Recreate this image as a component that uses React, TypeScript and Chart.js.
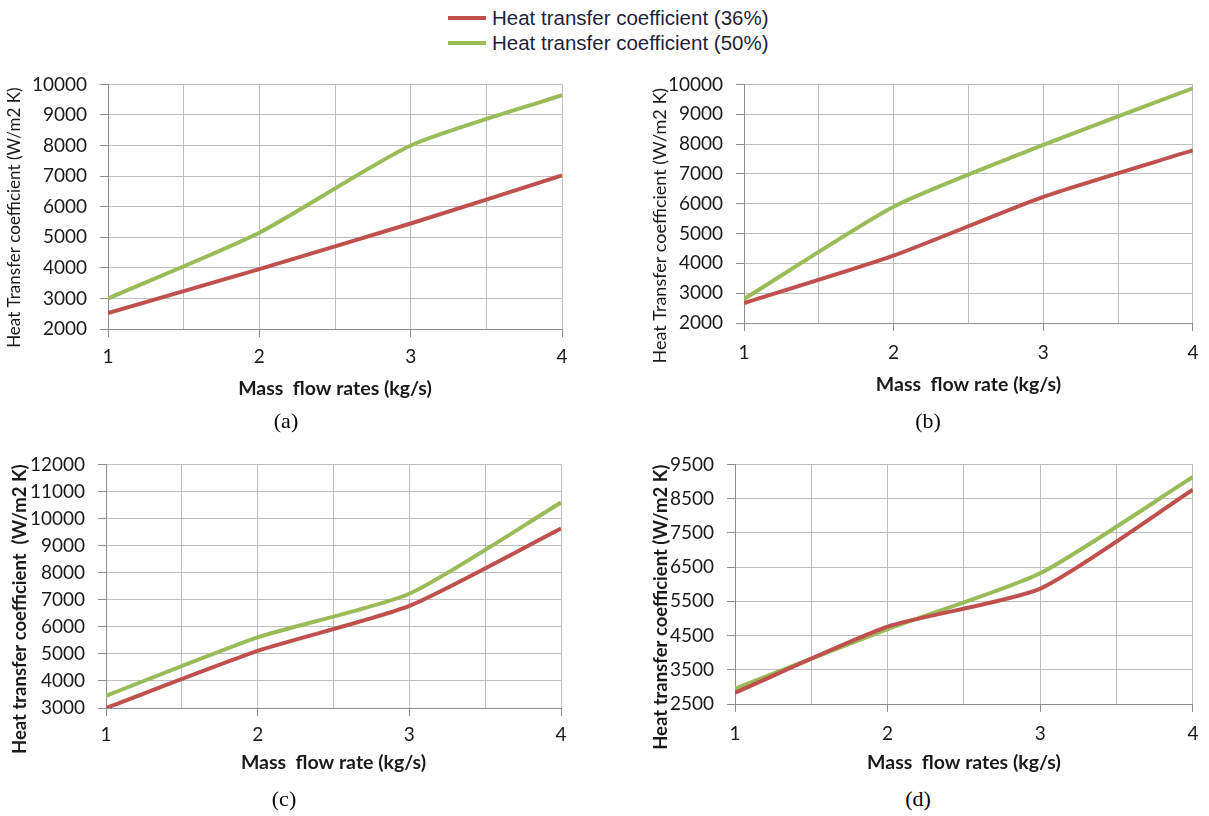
import React, { useEffect, useRef } from "react";
import { Chart, registerables } from "chart.js";

Chart.register(...registerables);

// ---------- data ----------
const massFlow = [1, 2, 3, 4];
const seriesLabels = ["Heat transfer coefficient (36%)", "Heat transfer coefficient (50%)"];
const seriesColors = ["#C0504D", "#9BBB59"];

const a36 = [2520, 3960, 5450, 7020];
const a50 = [3000, 5150, 8000, 9650];
const b36 = [2670, 4260, 6230, 7790];
const b50 = [2800, 5900, 7970, 9870];
const c36 = [3000, 5110, 6770, 9630];
const c50 = [3450, 5610, 7220, 10590];
const d36 = [2830, 4760, 5870, 8760];
const d50 = [2950, 4690, 6320, 9130];

const yTicksA = [2000, 3000, 4000, 5000, 6000, 7000, 8000, 9000, 10000];
const yTicksB = [2000, 3000, 4000, 5000, 6000, 7000, 8000, 9000, 10000];
const yTicksC = [3000, 4000, 5000, 6000, 7000, 8000, 9000, 10000, 11000, 12000];
const yTicksD = [2500, 3500, 4500, 5500, 6500, 7500, 8500, 9500];
const xTicks = [1, 2, 3, 4];

const xTitles = ["Mass  flow rates (kg/s)", "Mass  flow rate (kg/s)", "Mass  flow rate (kg/s)", "Mass  flow rates (kg/s)"];
const yTitles = [
  "Heat Transfer coefficient (W/m2 K)",
  "Heat Transfer coefficient (W/m2 K)",
  "Heat transfer coefficient  (W/m2 K)",
  "Heat transfer coefficient (W/m2 K)",
];
const captions = ["(a)", "(b)", "(c)", "(d)"];

// ---------- layout ----------
const panels = [
  { s36: a36, s50: a50, yt: yTicksA, cl: 0, ct: 60, w: 604, h: 350, L: 108, T: 82, R: 562, B: 329, xLabY: 357, xTitY: 389, yTitX: 15, yTitShift: 11, yTitSize: 17, yTitWeight: "normal", capX: 286, capY: 421 },
  { s36: b36, s50: b50, yt: yTicksB, cl: 604, ct: 60, w: 605, h: 350, L: 744, T: 83, R: 1199, B: 323, xLabY: 353, xTitY: 385, yTitX: 660, yTitShift: 22, yTitSize: 18, yTitWeight: "normal", capX: 928, capY: 421 },
  { s36: c36, s50: c50, yt: yTicksC, cl: 0, ct: 440, w: 604, h: 345, L: 106, T: 459, R: 561, B: 708, xLabY: 735, xTitY: 763, yTitX: 20, yTitShift: 23, yTitSize: 18.5, yTitWeight: "bold", capX: 284, capY: 799 },
  { s36: d36, s50: d50, yt: yTicksD, cl: 604, ct: 440, w: 605, h: 345, L: 735, T: 461, R: 1196, B: 704, xLabY: 734, xTitY: 763, yTitX: 661, yTitShift: 23, yTitSize: 18.5, yTitWeight: "bold", capX: 918, capY: 799 },
];

const FONT = "Lato";
const TICK_SIZE = 19;
const XTIT_SIZE = 19.5;
const TL = 8;
const GRID = "#BFBFBF";
const AXIS = "#8C8C8C";
const TEXT = "#1a1a1a";

// Draws the rotated y-axis title (allowed to be longer than the plot height)
const yTitlePlugin = {
  id: "yTitleText",
  afterDraw(chart: any, _args: any, opts: any) {
    const { ctx, chartArea } = chart;
    ctx.save();
    ctx.font = opts.font;
    ctx.fillStyle = opts.color;
    ctx.textAlign = "center";
    ctx.textBaseline = "middle";
    ctx.translate(opts.x, (chartArea.top + chartArea.bottom) / 2 + opts.shift);
    ctx.rotate(-Math.PI / 2);
    ctx.fillText(opts.text, 0, 0);
    ctx.restore();
  },
};

function Panel({ idx }: { idx: number }) {
  const p = panels[idx];
  const ref = useRef<HTMLCanvasElement | null>(null);
  useEffect(() => {
    if (!ref.current) return;
    const xTitLh = XTIT_SIZE * 1.2;
    const yWidth = p.L - p.cl;
    const xHeight = p.ct + p.h - p.B;
    const xTickPad = p.xLabY - p.B - TL - (TICK_SIZE * 1.2) / 2;
    const xTitPadBottom = p.ct + p.h - p.xTitY - xTitLh / 2;
    const yMin = p.yt[0];
    const yMax = p.yt[p.yt.length - 1];
    const yStep = p.yt[1] - p.yt[0];
    const xMin = xTicks[0];
    const xMax = xTicks[xTicks.length - 1];

    const chart = new Chart(ref.current, {
      type: "line",
      data: {
        datasets: [p.s36, p.s50].map((vals, k) => ({
          label: seriesLabels[k],
          data: massFlow.map((x, i) => ({ x, y: vals[i] })),
          borderColor: seriesColors[k],
          backgroundColor: seriesColors[k],
          borderWidth: 4,
          pointRadius: 0,
          tension: 0.2,
          fill: false,
        })),
      },
      options: {
        animation: false,
        responsive: false,
        maintainAspectRatio: false,
        layout: { padding: { left: 0, top: p.T - p.ct, right: p.cl + p.w - p.R, bottom: 0 } },
        plugins: {
          legend: { display: false },
          tooltip: { enabled: false },
          yTitleText: {
            text: yTitles[idx],
            font: `${p.yTitWeight} ${p.yTitSize}px ${FONT}`,
            color: TEXT,
            x: p.yTitX - p.cl,
            shift: p.yTitShift,
          },
        },
        scales: {
          x: {
            type: "linear",
            min: xMin,
            max: xMax,
            afterFit: (s: any) => { s.height = xHeight; },
            ticks: {
              stepSize: 0.5,
              autoSkip: false,
              maxRotation: 0,
              padding: xTickPad,
              font: { family: FONT, size: TICK_SIZE },
              color: TEXT,
              callback: (v: any) => (xTicks.includes(Number(v)) ? String(v) : ""),
            },
            grid: {
              color: GRID,
              lineWidth: 1,
              tickLength: TL,
              tickColor: (c: any) => (c.tick && xTicks.includes(c.tick.value) ? AXIS : "rgba(0,0,0,0)"),
            },
            border: { color: AXIS, width: 1 },
            title: {
              display: true,
              text: xTitles[idx],
              color: TEXT,
              font: { family: FONT, size: XTIT_SIZE, weight: "bold" },
              padding: { top: 0, bottom: xTitPadBottom },
            },
          },
          y: {
            type: "linear",
            min: yMin,
            max: yMax,
            afterFit: (s: any) => { s.width = yWidth; },
            ticks: {
              stepSize: yStep,
              padding: 13,
              font: { family: FONT, size: TICK_SIZE },
              color: TEXT,
              callback: (v: any) => String(v),
            },
            grid: { color: GRID, lineWidth: 1, tickLength: TL, tickColor: AXIS },
            border: { color: AXIS, width: 1 },
            title: { display: false },
          },
        },
      },
      plugins: [yTitlePlugin],
    } as any);
    return () => chart.destroy();
  }, []);

  return (
    <>
      <canvas
        ref={ref}
        width={p.w}
        height={p.h}
        style={{ position: "absolute", left: p.cl, top: p.ct, width: p.w, height: p.h }}
      />
      <div
        style={{
          position: "absolute",
          left: p.capX,
          top: p.capY,
          transform: "translate(-50%, -50%)",
          font: '22px "Liberation Serif"',
          color: "#000",
          whiteSpace: "nowrap",
        }}
      >
        {captions[idx]}
      </div>
    </>
  );
}

export default function App() {
  const legendRows = [18, 43];
  return (
    <div
      style={{
        position: "absolute",
        left: 0,
        top: 0,
        width: 1209,
        height: 816,
        background: "#fff",
        overflow: "hidden",
      }}
    >
      {seriesLabels.map((lab, k) => (
        <React.Fragment key={lab}>
          <div
            style={{
              position: "absolute",
              left: 448,
              top: legendRows[k] - 2,
              width: 38,
              height: 4,
              background: seriesColors[k],
            }}
          />
          <div
            style={{
              position: "absolute",
              left: 492,
              top: legendRows[k],
              transform: "translateY(-50%)",
              font: '20.5px "Liberation Sans"',
              color: "#1f1f3a",
              whiteSpace: "nowrap",
              lineHeight: "24px",
            }}
          >
            {lab}
          </div>
        </React.Fragment>
      ))}
      {panels.map((_, i) => (
        <Panel key={i} idx={i} />
      ))}
    </div>
  );
}
